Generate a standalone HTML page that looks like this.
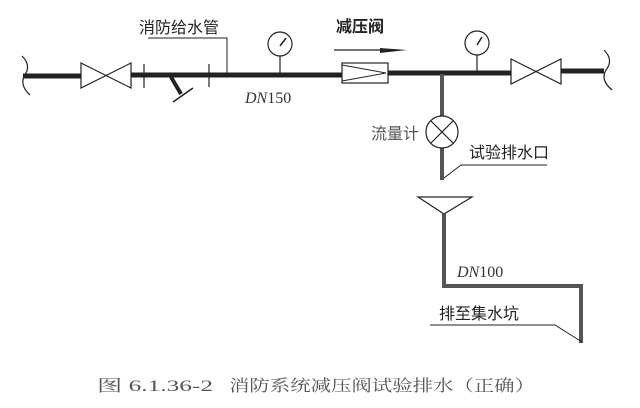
<!DOCTYPE html>
<html><head><meta charset="utf-8"><style>body{margin:0;background:#fff}svg{display:block}</style></head><body>
<svg width="640" height="408" viewBox="0 0 640 408" xmlns="http://www.w3.org/2000/svg" font-family="'Liberation Serif','Noto Serif CJK SC',serif">
<rect width="640" height="408" fill="#fff"/>
<g stroke="#222" fill="none">
<line x1="23" y1="76" x2="81" y2="76" stroke-width="5"/>
<line x1="131" y1="75" x2="342" y2="75" stroke-width="5"/>
<line x1="388" y1="73" x2="511" y2="73" stroke-width="5"/>
<line x1="561" y1="71" x2="604" y2="71" stroke-width="5"/>
<path d="M22 56 Q32 66 24 76 Q20 86 30 95" stroke-width="1.2"/>
<path d="M604 50 Q614 60 606 70 Q600 80 612 90" stroke-width="1.2"/>
<path d="M81 63 L131 88 L131 63 L81 88 Z" stroke-width="1.2" fill="#fff"/>
<line x1="144" y1="64" x2="144" y2="88" stroke-width="1.2"/>
<line x1="209" y1="64" x2="209" y2="87" stroke-width="1.2"/>
<line x1="171" y1="77" x2="181" y2="94" stroke-width="4"/>
<line x1="173" y1="102" x2="193" y2="88" stroke-width="1.5"/>
<polyline points="148,38 227,38 227,74" stroke-width="1"/>
<line x1="280" y1="56" x2="280" y2="74" stroke-width="1.2"/>
<circle cx="280" cy="44" r="12" stroke-width="1.2" fill="#fff"/>
<line x1="280" y1="46" x2="286" y2="38" stroke-width="1.5"/>
<line x1="334" y1="50" x2="396" y2="50" stroke-width="1.2"/>
<path d="M380 48 L407 50 L380 53 Z" fill="#222" stroke="none"/>
<rect x="342" y="63" width="46" height="20" stroke-width="1.2" fill="#fff"/>
<polyline points="342,65 386,73 342,81" stroke-width="1"/>
<line x1="477" y1="55" x2="477" y2="73" stroke-width="1.2"/>
<circle cx="477" cy="43" r="12" stroke-width="1.2" fill="#fff"/>
<line x1="477" y1="45" x2="482" y2="37" stroke-width="1.5"/>
<path d="M511 59 L561 84 L561 59 L511 84 Z" stroke-width="1.2" fill="#fff"/>
<line x1="442" y1="74" x2="442" y2="180" stroke="#555" stroke-width="4"/>
<circle cx="442" cy="132" r="16" stroke-width="1.2" fill="#fff"/>
<line x1="431" y1="121" x2="453" y2="143" stroke-width="1.2"/>
<line x1="453" y1="121" x2="431" y2="143" stroke-width="1.2"/>
<polyline points="444,178 461,165 547,165" stroke-width="1"/>
<path d="M418 197 L472 197 L444 214 Z" stroke-width="1.2"/>
<polyline points="444,214 444,286 581,286 581,343" stroke="#555" stroke-width="4"/>
<polyline points="430,325 555,325 582,342" stroke-width="1"/>
</g>
<g fill="#222" font-size="16" font-family="'Liberation Sans','Noto Sans CJK SC',sans-serif">
<text x="139" y="33">消防给水管</text>
<text x="336" y="32" font-weight="bold">减压阀</text>
<text x="371" y="139" fill="#555">流量计</text>
<text x="469" y="158">试验排水口</text>
<text x="439" y="319">排至集水坑</text>
</g>
<text x="245" y="103" font-size="16" fill="#333"><tspan font-style="italic">DN</tspan>150</text>
<text x="457" y="277" font-size="16" fill="#333"><tspan font-style="italic">DN</tspan>100</text>
<g fill="#555" font-size="16">
<text x="97" y="391" textLength="116" lengthAdjust="spacingAndGlyphs">图 6.1.36-2</text>
<text x="229" y="391" textLength="306" lengthAdjust="spacingAndGlyphs">消防系统减压阀试验排水（正确）</text>
</g>
</svg>
</body></html>
